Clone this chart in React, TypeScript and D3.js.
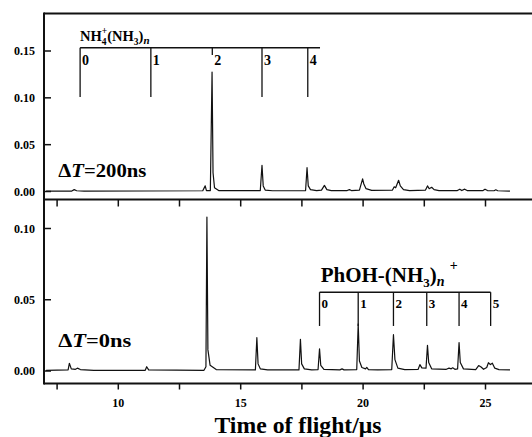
import React from 'react';
import * as d3 from 'd3';

// tick values
const xTicks = [7.5, 10, 12.5, 15, 17.5, 20, 22.5, 25];
const xTickLabels = [10, 15, 20, 25];
const yTicksTop = [0, 0.05, 0.1, 0.15];
const yTicksBottom = [0, 0.05, 0.1];

// spectrum vertices [time (us), intensity], dT = 200 ns
const traceTop: [number, number][] = [
  [7.05, 0.0005], [8.1, 0.0005], [8.2, 0.002], [8.3, 0.0008], [8.6, 0.0005],
  [13.45, 0.0008], [13.55, 0.006], [13.6, 0.001], [13.76, 0.001], [13.83, 0.1275],
  [13.87, 0.02], [13.93, 0.004], [14.1, 0.001], [15.8, 0.001], [15.87, 0.028],
  [15.92, 0.006], [16.0, 0.0015], [16.3, 0.0008], [17.65, 0.001], [17.71, 0.0254],
  [17.76, 0.006], [17.85, 0.002], [18.1, 0.001], [18.3, 0.0015], [18.42, 0.0065],
  [18.52, 0.002], [18.7, 0.001], [19.35, 0.001], [19.44, 0.002], [19.52, 0.001],
  [19.85, 0.0015], [19.98, 0.0135], [20.03, 0.008], [20.12, 0.003], [20.35, 0.0012],
  [21.2, 0.0015], [21.27, 0.005], [21.33, 0.004], [21.45, 0.012], [21.52, 0.006],
  [21.65, 0.002], [21.9, 0.001], [22.55, 0.0015], [22.63, 0.006], [22.7, 0.003],
  [22.8, 0.0045], [22.9, 0.002], [23.1, 0.001], [23.85, 0.001], [23.95, 0.0025],
  [24.03, 0.001], [24.15, 0.0025], [24.25, 0.001], [24.9, 0.001], [24.98, 0.0025],
  [25.08, 0.001], [25.35, 0.0008], [25.42, 0.0018], [25.5, 0.0008], [26.0, 0.0005],
];

// dT = 0 ns
const traceBottom: [number, number][] = [
  [7.05, 0.0005], [7.95, 0.0008], [8.0, 0.0054], [8.08, 0.0015], [8.25, 0.0012],
  [8.33, 0.002], [8.45, 0.001], [9.0, 0.0005], [11.1, 0.0005], [11.16, 0.003],
  [11.24, 0.0008], [13.5, 0.0005], [13.58, 0.003], [13.62, 0.108], [13.66, 0.015],
  [13.75, 0.004], [14.0, 0.001], [15.6, 0.0008], [15.66, 0.0234], [15.71, 0.005],
  [15.8, 0.0015], [16.1, 0.0008], [17.38, 0.0008], [17.44, 0.0222], [17.49, 0.005],
  [17.6, 0.0015], [17.9, 0.0008], [18.16, 0.001], [18.22, 0.0155], [18.27, 0.004],
  [18.4, 0.0012], [19.05, 0.0008], [19.14, 0.0015], [19.22, 0.0008], [19.74, 0.001],
  [19.8, 0.033], [19.85, 0.007], [19.95, 0.0025], [20.1, 0.0015], [20.15, 0.0025],
  [20.22, 0.001], [20.6, 0.0008], [21.17, 0.001], [21.24, 0.0255], [21.3, 0.008],
  [21.42, 0.002], [21.7, 0.001], [22.25, 0.0012], [22.32, 0.0045], [22.4, 0.0022],
  [22.57, 0.002], [22.63, 0.018], [22.68, 0.006], [22.8, 0.0015], [23.4, 0.0012],
  [23.51, 0.002], [23.6, 0.0015], [23.66, 0.0022], [23.75, 0.0012], [23.86, 0.0015],
  [23.92, 0.02], [23.97, 0.006], [24.1, 0.0015], [24.6, 0.001], [24.72, 0.0038],
  [24.82, 0.0028], [24.92, 0.0012], [25.05, 0.0025], [25.12, 0.0058], [25.2, 0.0045],
  [25.28, 0.0055], [25.38, 0.002], [25.55, 0.001], [26.0, 0.0008],
];

// cluster series markers (time of flight, us)
const nh4Times = [8.44, 11.33, 13.84, 15.87, 17.74];
const nh4End = 18.24;
const phohTimes = [18.22, 19.8, 21.24, 22.6, 23.92, 25.21];

const W = 532;
const H = 437;
const left = 44;
const topY = 13.5;
const midY = 199.5;
const botY = 383.5;
const font = '"Liberation Serif", "Times New Roman", serif';

export default function App() {
  const x = d3.scaleLinear().domain([10, 25]).range([118.3, 485.5]);
  const yT = d3.scaleLinear().domain([0, 0.15]).range([191.5, 51]);
  const yB = d3.scaleLinear().domain([0, 0.1]).range([371, 228.5]);

  const lineT = d3.line<[number, number]>().x(d => x(d[0])).y(d => yT(d[1]));
  const lineB = d3.line<[number, number]>().x(d => x(d[0])).y(d => yB(d[1]));

  const stroke = '#111';

  return (
    <svg width={W} height={H} style={{ position: 'absolute', left: 0, top: 0, background: '#fff' }}
      fontFamily={font} fontWeight="bold">
      {/* frame */}
      <line x1={left} x2={W} y1={topY} y2={topY} stroke={stroke} strokeWidth={2} />
      <line x1={left} x2={W} y1={midY} y2={midY} stroke={stroke} strokeWidth={2} />
      <line x1={left} x2={W} y1={botY} y2={botY} stroke={stroke} strokeWidth={2} />
      <line x1={left} x2={left} y1={topY - 1} y2={botY + 1} stroke={stroke} strokeWidth={2} />

      {/* x ticks: top of lower panel (inward) and bottom (outward) */}
      {xTicks.map(t => (
        <g key={t}>
          <line x1={x(t)} x2={x(t)} y1={midY} y2={midY + 7} stroke={stroke} strokeWidth={1.5} />
          <line x1={x(t)} x2={x(t)} y1={botY} y2={botY + 6} stroke={stroke} strokeWidth={1.5} />
        </g>
      ))}
      {xTickLabels.map(t => (
        <text key={t} x={x(t)} y={407} fontSize={12} textAnchor="middle">{t}</text>
      ))}

      {/* y ticks */}
      {yTicksTop.map(v => (
        <g key={'t' + v}>
          <line x1={left} x2={left + 7} y1={yT(v)} y2={yT(v)} stroke={stroke} strokeWidth={1.5} />
          <text x={35} y={yT(v) + 4} fontSize={12} textAnchor="end">{v.toFixed(2)}</text>
        </g>
      ))}
      {yTicksBottom.map(v => (
        <g key={'b' + v}>
          <line x1={left} x2={left + 7} y1={yB(v)} y2={yB(v)} stroke={stroke} strokeWidth={1.5} />
          <text x={35} y={yB(v) + 4} fontSize={12} textAnchor="end">{v.toFixed(2)}</text>
        </g>
      ))}

      {/* spectra */}
      <path d={lineT(traceTop) || ''} fill="none" stroke={stroke} strokeWidth={1.2} strokeLinejoin="round" />
      <path d={lineB(traceBottom) || ''} fill="none" stroke={stroke} strokeWidth={1.2} strokeLinejoin="round" />

      {/* NH4+(NH3)n markers */}
      <line x1={x(nh4Times[0])} x2={x(nh4End)} y1={yT(0.1535)} y2={yT(0.1535)} stroke={stroke} strokeWidth={1.5} />
      {nh4Times.map((t, i) => (
        <g key={'n' + i}>
          <line x1={x(t)} x2={x(t)} y1={yT(0.1535)} y2={i === 2 ? yT(0.1457) : yT(0.101)} stroke={stroke} strokeWidth={1.3} />
          <text x={x(t) + 2} y={65} fontSize={14}>{i}</text>
        </g>
      ))}
      <text x={80} y={40.7} fontSize={14.5}>
        NH
        <tspan fontSize={9.5} dy={4}>4</tspan>
        <tspan fontSize={9.5} dx={-4.7} dy={-11}>+</tspan>
        <tspan dy={7}>(NH</tspan>
        <tspan fontSize={9.5} dy={4}>3</tspan>
        <tspan dy={-4}>)</tspan>
        <tspan fontSize={11} fontStyle="italic" dy={3}>n</tspan>
      </text>

      {/* PhOH-(NH3)n+ markers */}
      <line x1={x(phohTimes[0])} x2={x(phohTimes[phohTimes.length - 1])} y1={yB(0.0553)} y2={yB(0.0553)} stroke={stroke} strokeWidth={1.5} />
      {phohTimes.map((t, i) => (
        <g key={'p' + i}>
          <line x1={x(t)} x2={x(t)} y1={yB(0.0553)} y2={yB(0.0316)} stroke={stroke} strokeWidth={1.3} />
          <text x={x(t) + 2} y={308.3} fontSize={13}>{i}</text>
        </g>
      ))}
      <text x={320.7} y={281.7} fontSize={21}>
        PhOH-(NH
        <tspan fontSize={13} dy={5}>3</tspan>
        <tspan dy={-5}>)</tspan>
        <tspan fontSize={14} fontStyle="italic" dy={4}>n</tspan>
        <tspan fontSize={14} dx={5} dy={-16}>+</tspan>
      </text>

      {/* delay labels */}
      <text x={58.3} y={176.7} fontSize={19} textLength={88} lengthAdjust="spacingAndGlyphs">
        Δ<tspan fontStyle="italic">T</tspan>=200ns
      </text>
      <text x={58.3} y={346.5} fontSize={19} textLength={73} lengthAdjust="spacingAndGlyphs">
        Δ<tspan fontStyle="italic">T</tspan>=0ns
      </text>

      {/* axis title */}
      <text x={214.5} y={433.3} fontSize={23} textLength={167} lengthAdjust="spacingAndGlyphs">
        Time of flight/μs
      </text>
    </svg>
  );
}
